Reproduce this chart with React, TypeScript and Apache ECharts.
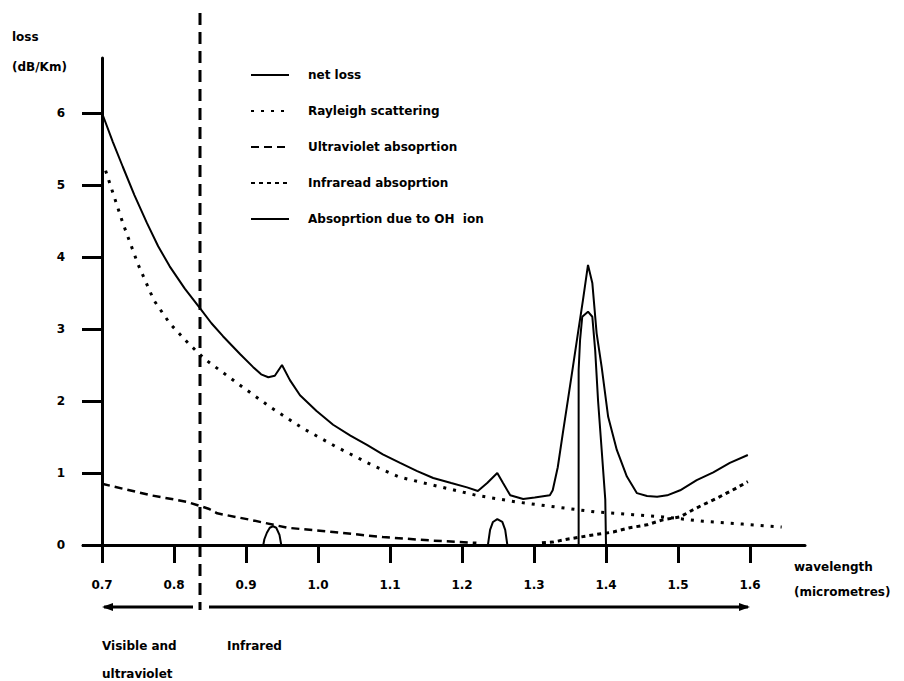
import React, { useEffect, useRef } from "react";
import * as echarts from "echarts";

// ---- data (wavelength in micrometres, loss in dB/Km) ----
const xTicks = [0.7, 0.8, 0.9, 1.0, 1.1, 1.2, 1.3, 1.4, 1.5, 1.6];
const yTicks = [0, 1, 2, 3, 4, 5, 6];

const netLoss: [number, number][] = [
  [0.7, 6.0], [0.715, 5.6], [0.729, 5.25], [0.745, 4.86], [0.7625, 4.47],
  [0.778, 4.15], [0.794, 3.87], [0.815, 3.56], [0.836, 3.29], [0.852, 3.08],
  [0.868, 2.9], [0.892, 2.65], [0.91, 2.47], [0.921, 2.37], [0.931, 2.33],
  [0.94, 2.35], [0.95, 2.5], [0.961, 2.29], [0.975, 2.08], [0.998, 1.86],
  [1.021, 1.67], [1.045, 1.52], [1.068, 1.39], [1.09, 1.26], [1.114, 1.14],
  [1.137, 1.03], [1.16, 0.93], [1.185, 0.86], [1.207, 0.8], [1.222, 0.75],
  [1.235, 0.86], [1.249, 1.0], [1.257, 0.86], [1.267, 0.69], [1.285, 0.64],
  [1.301, 0.66], [1.322, 0.69], [1.326, 0.76], [1.333, 1.08], [1.34, 1.55],
  [1.347, 2.01], [1.354, 2.47], [1.361, 2.94], [1.368, 3.4], [1.375, 3.89],
  [1.381, 3.64], [1.387, 2.94], [1.394, 2.47], [1.403, 1.78], [1.415, 1.32],
  [1.429, 0.95], [1.443, 0.72], [1.457, 0.68], [1.471, 0.67], [1.485, 0.69],
  [1.503, 0.76], [1.526, 0.9], [1.549, 1.01], [1.572, 1.14], [1.597, 1.25],
];

const rayleigh: [number, number][] = [
  [0.705, 5.2], [0.729, 4.47], [0.75, 3.9], [0.772, 3.4], [0.794, 3.08],
  [0.82, 2.8], [0.843, 2.58], [0.8875, 2.25], [0.933, 1.92], [0.979, 1.62],
  [1.026, 1.36], [1.075, 1.11], [1.114, 0.94], [1.169, 0.81], [1.22, 0.69],
  [1.274, 0.6], [1.329, 0.53], [1.385, 0.46], [1.4375, 0.42], [1.479, 0.39],
  [1.535, 0.33], [1.59, 0.29], [1.644, 0.25],
];

const ultraviolet: [number, number][] = [
  [0.7, 0.85], [0.768, 0.69], [0.818, 0.6], [0.849, 0.5], [0.86, 0.44],
  [0.906, 0.35], [0.957, 0.24], [1.021, 0.18], [1.09, 0.11], [1.16, 0.06],
  [1.22, 0.03],
];

const infrared: [number, number][] = [
  [1.311, 0.03], [1.326, 0.04], [1.346, 0.08], [1.364, 0.11], [1.382, 0.14],
  [1.41, 0.18], [1.433, 0.24], [1.457, 0.28], [1.479, 0.35], [1.503, 0.39],
  [1.521, 0.49], [1.535, 0.56], [1.554, 0.65], [1.579, 0.78], [1.597, 0.88],
];

const ohPeak1: [number, number][] = [
  [0.924, 0], [0.9255, 0.08], [0.929, 0.17], [0.933, 0.24], [0.9375, 0.26],
  [0.942, 0.24], [0.9465, 0.14], [0.949, 0],
];
const ohPeak2: [number, number][] = [
  [1.236, 0], [1.239, 0.21], [1.243, 0.32], [1.249, 0.36], [1.256, 0.32],
  [1.26, 0.21], [1.263, 0],
];
const ohPeak3: [number, number][] = [
  [1.362, 0], [1.362, 2.43], [1.364, 2.85], [1.367, 3.17], [1.375, 3.24],
  [1.381, 3.17], [1.385, 2.7], [1.389, 2.0], [1.394, 1.32], [1.399, 0.63],
  [1.4, 0],
];

const seriesNames = [
  "net loss",
  "Rayleigh scattering",
  "Ultraviolet absoprtion",
  "Infraread absoprtion",
  "Absoprtion due to OH  ion",
];

const FONT = "DejaVu Sans";

export default function App() {
  const ref = useRef<HTMLDivElement>(null);

  useEffect(() => {
    if (!ref.current) return;
    const chart = echarts.init(ref.current, null, { renderer: "svg" });
    const black = "#000";
    const line = (name: string, data: [number, number][], width: number, type: any) => ({
      name,
      type: "line",
      data,
      symbol: "none",
      smooth: false,
      lineStyle: { color: black, width, type },
      itemStyle: { color: black },
      z: 3,
    });
    const txt = (text: string, x: number, y: number) => ({
      type: "text",
      left: x,
      top: y,
      style: { text, fill: black, font: `bold 12px "${FONT}"` },
    });

    chart.setOption({
      animation: false,
      backgroundColor: "#fff",
      grid: { left: 83, right: 99, top: 58, bottom: 136 },
      xAxis: {
        type: "value",
        min: 0.7 - 19 / 720,
        max: 0.7 + 703 / 720,
        axisLine: { show: true, lineStyle: { color: black, width: 3 } },
        axisTick: {
          show: true,
          customValues: xTicks,
          length: 18,
          lineStyle: { color: black, width: 3 },
        },
        axisLabel: {
          customValues: xTicks,
          formatter: (v: number) => v.toFixed(1),
          margin: 34,
          color: black,
          fontFamily: FONT,
          fontWeight: "bold",
          fontSize: 12,
        },
        splitLine: { show: false },
      },
      yAxis: {
        type: "value",
        min: 0,
        max: 487 / 72,
        interval: 1,
        offset: -19,
        axisLine: { show: true, lineStyle: { color: black, width: 3 } },
        axisTick: { show: true, length: 20, lineStyle: { color: black, width: 3 } },
        axisLabel: {
          showMaxLabel: false,
          formatter: (v: number) => (yTicks.includes(v) ? String(v) : ""),
          margin: 37,
          color: black,
          fontFamily: FONT,
          fontWeight: "bold",
          fontSize: 12,
        },
        splitLine: { show: false },
      },
      legend: {
        orient: "vertical",
        left: 245,
        top: 64,
        itemWidth: 38,
        itemHeight: 14,
        itemGap: 24,
        data: seriesNames,
        itemStyle: { opacity: 0 },
        textStyle: {
          color: black,
          fontFamily: FONT,
          fontWeight: "bold",
          fontSize: 12,
          padding: [0, 0, 0, 14],
        },
      },
      series: [
        line(seriesNames[0], netLoss, 2, "solid"),
        line(seriesNames[1], rayleigh, 3, [3, 7]),
        line(seriesNames[2], ultraviolet, 2.5, [8, 5]),
        line(seriesNames[3], infrared, 3, [4, 4]),
        line(seriesNames[4], ohPeak1, 2, "solid"),
        line(seriesNames[4], ohPeak2, 2, "solid"),
        line(seriesNames[4], ohPeak3, 2, "solid"),
      ],
      graphic: [
        {
          type: "line",
          shape: { x1: 200, y1: 13, x2: 200, y2: 610 },
          style: { stroke: black, lineWidth: 3, lineDash: [12, 7] },
          z: 10,
        },
        {
          type: "line",
          shape: { x1: 104, y1: 607, x2: 193, y2: 607 },
          style: { stroke: black, lineWidth: 3 },
        },
        {
          type: "polygon",
          shape: { points: [[102, 607], [113, 603], [113, 611]] },
          style: { fill: black },
        },
        {
          type: "line",
          shape: { x1: 209, y1: 607, x2: 748, y2: 607 },
          style: { stroke: black, lineWidth: 3 },
        },
        {
          type: "polygon",
          shape: { points: [[750, 607], [739, 603], [739, 611]] },
          style: { fill: black },
        },
        txt("loss", 12, 31),
        txt("(dB/Km)", 12, 61),
        txt("wavelength", 794, 561),
        txt("(micrometres)", 794, 586),
        txt("Visible and", 102, 640),
        txt("ultraviolet", 102, 668),
        txt("Infrared", 227, 640),
      ],
    });
    return () => chart.dispose();
  }, []);

  return (
    <div
      ref={ref}
      style={{ position: "fixed", left: 0, top: 0, width: 904, height: 681 }}
    />
  );
}
